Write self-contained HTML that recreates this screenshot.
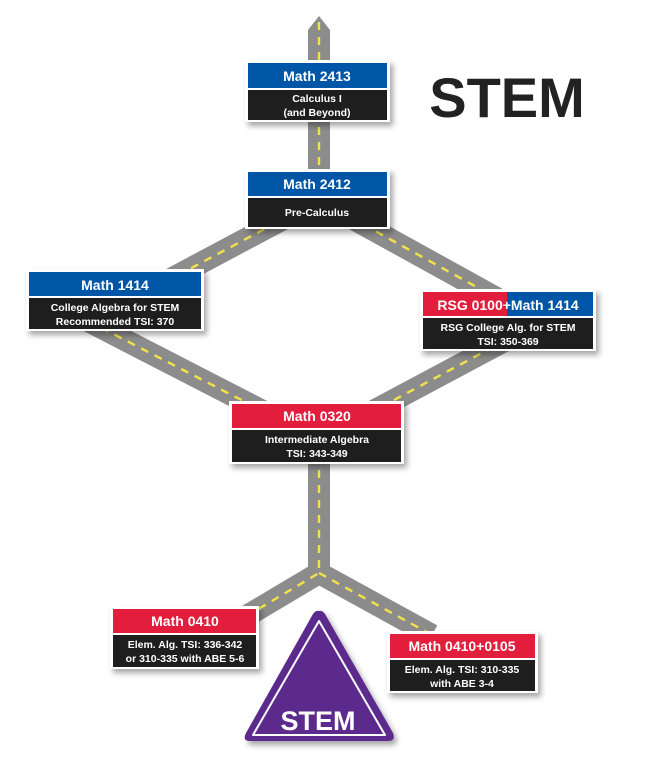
<!DOCTYPE html>
<html><head><style>
body{margin:0;background:#fff;}
svg text{font-family:"Liberation Sans",sans-serif;font-weight:bold;}
</style></head><body>
<svg width="645" height="765" viewBox="0 0 645 765" xmlns="http://www.w3.org/2000/svg">
<defs>
<filter id="sh" x="-10%" y="-10%" width="130%" height="140%"><feDropShadow dx="3" dy="4" stdDeviation="3" flood-color="#000" flood-opacity="0.35"/></filter>
</defs>
<g fill="none" stroke-linejoin="round">
<g stroke="#8c8c8c" stroke-width="22">
<path d="M319 30 L319 200 L90 322 L319 440 L540 322 L319 200"/>
<path d="M319 440 L319 573 L240 620 M319 573 L432 635"/>
</g>
<polygon points="308,30 319,16 330,30" fill="#8c8c8c"/>
<g stroke="#f2e24a" stroke-width="2.4" stroke-dasharray="8 7">
<path d="M319 22 L319 200 L90 322 L319 440 L540 322 L319 200"/>
<path d="M319 440 L319 573 L240 620 M319 573 L432 635"/>
</g>
</g>

<text x="507" y="117" font-size="56" text-anchor="middle" fill="#222">STEM</text>

<g filter="url(#sh)"><rect x="245" y="60" width="145" height="62" fill="#fff"/></g>
<rect x="248" y="63" width="139" height="25" fill="#0056a6"/>
<rect x="248" y="90" width="139" height="30" fill="#1e1e1e"/>
<text x="317" y="81" font-size="14" fill="#fff" text-anchor="middle">Math 2413</text>
<text x="317" y="102" font-size="10.5" fill="#fff" text-anchor="middle">Calculus I</text>
<text x="317" y="116" font-size="10.5" fill="#fff" text-anchor="middle">(and Beyond)</text>

<g filter="url(#sh)"><rect x="245" y="169" width="145" height="60" fill="#fff"/></g>
<rect x="248" y="172" width="139" height="24" fill="#0056a6"/>
<rect x="248" y="198" width="139" height="29" fill="#1e1e1e"/>
<text x="317" y="189" font-size="14" fill="#fff" text-anchor="middle">Math 2412</text>
<text x="317" y="216" font-size="10.5" fill="#fff" text-anchor="middle">Pre-Calculus</text>

<g filter="url(#sh)"><rect x="26" y="269" width="178" height="62" fill="#fff"/></g>
<rect x="29" y="272" width="172" height="24" fill="#0056a6"/>
<rect x="29" y="298" width="172" height="31" fill="#1e1e1e"/>
<text x="115" y="290" font-size="14" fill="#fff" text-anchor="middle">Math 1414</text>
<text x="115" y="311" font-size="10.5" fill="#fff" text-anchor="middle">College Algebra for STEM</text>
<text x="115" y="325" font-size="10.5" fill="#fff" text-anchor="middle">Recommended TSI: 370</text>

<g filter="url(#sh)"><rect x="420" y="289" width="176" height="62" fill="#fff"/></g>
<rect x="423" y="292" width="84" height="24" fill="#e31d3c"/>
<rect x="507" y="292" width="86" height="24" fill="#0056a6"/>
<rect x="423" y="318" width="170" height="31" fill="#1e1e1e"/>
<text x="508" y="310" font-size="14" fill="#fff" text-anchor="middle">RSG 0100+Math 1414</text>
<text x="508" y="331" font-size="10.5" fill="#fff" text-anchor="middle">RSG College Alg. for STEM</text>
<text x="508" y="345" font-size="10.5" fill="#fff" text-anchor="middle">TSI: 350-369</text>

<g filter="url(#sh)"><rect x="229" y="401" width="175" height="63" fill="#fff"/></g>
<rect x="232" y="404" width="169" height="24" fill="#e31d3c"/>
<rect x="232" y="430" width="169" height="32" fill="#1e1e1e"/>
<text x="317" y="421" font-size="14" fill="#fff" text-anchor="middle">Math 0320</text>
<text x="317" y="443" font-size="10.5" fill="#fff" text-anchor="middle">Intermediate Algebra</text>
<text x="317" y="457" font-size="10.5" fill="#fff" text-anchor="middle">TSI: 343-349</text>

<g filter="url(#sh)"><rect x="110" y="606" width="149" height="63" fill="#fff"/></g>
<rect x="113" y="609" width="143" height="24" fill="#e31d3c"/>
<rect x="113" y="635" width="143" height="32" fill="#1e1e1e"/>
<text x="185" y="626" font-size="14" fill="#fff" text-anchor="middle">Math 0410</text>
<text x="185" y="648" font-size="10.5" fill="#fff" text-anchor="middle">Elem. Alg. TSI: 336-342</text>
<text x="185" y="662" font-size="10.5" fill="#fff" text-anchor="middle">or 310-335 with ABE 5-6</text>

<g filter="url(#sh)"><rect x="387" y="631" width="151" height="62" fill="#fff"/></g>
<rect x="390" y="634" width="145" height="24" fill="#e31d3c"/>
<rect x="390" y="660" width="145" height="31" fill="#1e1e1e"/>
<text x="462" y="651" font-size="14" fill="#fff" text-anchor="middle">Math 0410+0105</text>
<text x="462" y="673" font-size="10.5" fill="#fff" text-anchor="middle">Elem. Alg. TSI: 310-335</text>
<text x="462" y="687" font-size="10.5" fill="#fff" text-anchor="middle">with ABE 3-4</text>

<g filter="url(#sh)"><path d="M319 611 Q322 610 325 614 L393 733 Q396 741 388 741 L250 741 Q242 741 246 733 L313 614 Q316 610 319 611 Z" fill="#5b2a8c"/></g>
<path d="M319 621 L385 735 L253 735 Z" fill="none" stroke="#fff" stroke-width="2" stroke-linejoin="round"/>
<text x="318" y="730" font-size="27" fill="#fff" text-anchor="middle">STEM</text>
</svg>
</body></html>
